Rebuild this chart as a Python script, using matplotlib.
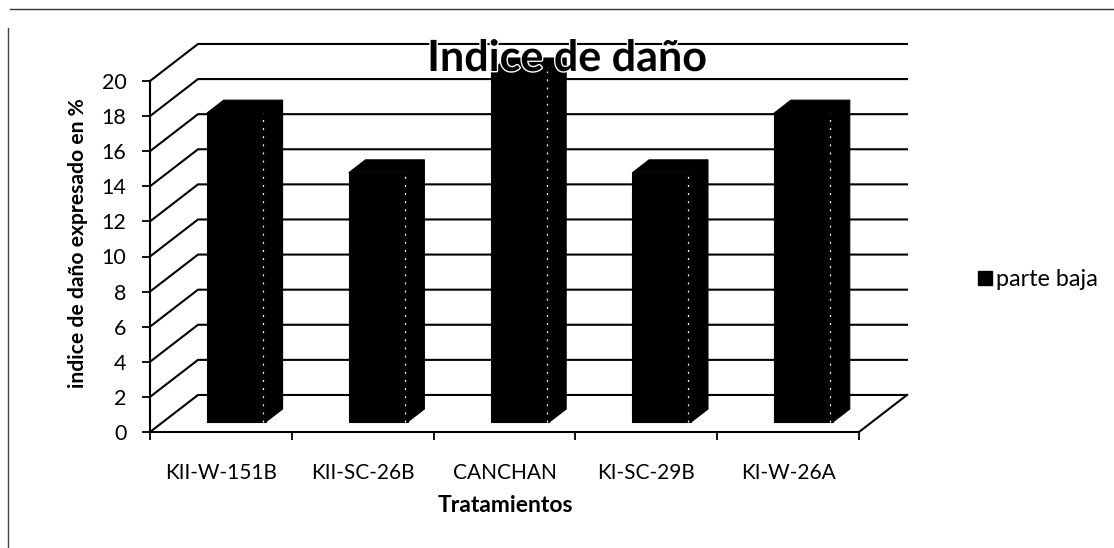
import matplotlib
matplotlib.use("Agg")
import matplotlib.pyplot as plt
from matplotlib.patches import Polygon
from matplotlib.lines import Line2D
import matplotlib.patheffects as pe

plt.rcParams['font.family'] = ['Lato', 'DejaVu Sans']

categories = ["KII-W-151B", "KII-SC-26B", "CANCHAN", "KI-SC-29B", "KI-W-26A"]
values = [17.6, 14.2, 20.0, 14.2, 17.6]
y_ticks = list(range(0, 21, 2))
title = "Indice de daño"
xlabel = "Tratamientos"
ylabel = "indice de daño expresado en %"
series = "parte baja"

W, H = 1114, 548
fig = plt.figure(figsize=(W / 100, H / 100), dpi=100, facecolor="white")
ax = fig.add_axes([150 / W, (H - 432) / H, 709 / W, 351 / H])
ax.set_xlim(0, len(categories))
ax.set_ylim(0, 20)
ax.patch.set_visible(False)

# oblique projection of the 3D box
DX, DY = 0.3385, 2.11


def proj(x, y, d):
    return x + d * DX, y + d * DY


LW = 1.5
for t in y_ticks:
    p0, p1, p2 = proj(0, t, 0), proj(0, t, 1), proj(len(categories), t, 1)
    ax.plot([p0[0], p1[0], p2[0]], [p0[1], p1[1], p2[1]], color="black", lw=LW,
            clip_on=False, zorder=1, solid_joinstyle="miter")
fr = proj(len(categories), 0, 0), proj(len(categories), 0, 1)
ax.plot([fr[0][0], fr[1][0]], [fr[0][1], fr[1][1]], color="black", lw=LW, clip_on=False, zorder=1)

# bars as boxes
LEFT, WIDTH, D0, D1 = 0.31, 0.415, 0.27, 0.62
for i, v in enumerate(values):
    x0, x1 = i + LEFT, i + LEFT + WIDTH
    front = [proj(x0, 0, D0), proj(x1, 0, D0), proj(x1, v, D0), proj(x0, v, D0)]
    top = [proj(x0, v, D0), proj(x1, v, D0), proj(x1, v, D1), proj(x0, v, D1)]
    side = [proj(x1, 0, D0), proj(x1, 0, D1), proj(x1, v, D1), proj(x1, v, D0)]
    for poly in (front, top, side):
        ax.add_patch(Polygon(poly, closed=True, facecolor="black", edgecolor="black",
                             lw=0.8, clip_on=False, zorder=3))
    e0, e1 = proj(x1 - 0.02, 0, D0), proj(x1 - 0.02, v, D0)
    ax.plot([e0[0], e1[0]], [e0[1], e1[1]], color="white", lw=0.9,
            ls=(0, (1.5, 5)), clip_on=False, zorder=4)

# axes
for s in ("top", "right"):
    ax.spines[s].set_visible(False)
for s in ("left", "bottom"):
    ax.spines[s].set_linewidth(LW)
    ax.spines[s].set_zorder(2)
ax.set_yticks(y_ticks)
ax.set_yticklabels([str(t) for t in y_ticks], fontsize=15.5, color="black")
ax.set_xticks(range(len(categories) + 1))
ax.set_xticklabels([])
ax.set_xticks([i + 0.5 for i in range(len(categories))], minor=True)
ax.set_xticklabels(categories, minor=True, fontsize=15, color="black")
ax.tick_params(axis="x", which="major", length=6, width=1.3, direction="out")
ax.tick_params(axis="x", which="minor", length=0, pad=22)
ax.tick_params(axis="y", length=6, width=1.3, pad=11)

fig.text(567 / W, 1 - 58 / H, title, ha="center", va="center", fontsize=31, fontweight="bold",
         color="black", zorder=10,
         path_effects=[pe.withStroke(linewidth=2.0, foreground="white")])
fig.text(505 / W, 1 - 505 / H, xlabel, ha="center", va="center", fontsize=16.5, fontweight="bold", color="black")
fig.text(78 / W, 1 - 243 / H, ylabel, ha="center", va="center", rotation=90, fontsize=15.2,
         fontweight="bold", color="black")

# legend
leg = ax.legend([Line2D([], [], marker="s", ls="none", color="black", markersize=10)], [series],
                loc="center left", bbox_to_anchor=(973 / W, 1 - 280 / H),
                bbox_transform=fig.transFigure, frameon=False, fontsize=16.8,
                borderpad=0, borderaxespad=0, handletextpad=0.0, handlelength=1.0)
for t in leg.get_texts():
    t.set_color("black")

# scanned page border
fig.add_artist(Line2D([10 / W, 1], [1 - 9 / H, 1 - 9 / H], color="#333333", lw=1.0))
fig.add_artist(Line2D([8 / W, 8 / W], [0, 1 - 28 / H], color="#444444", lw=1.0))

fig.savefig("out.png", dpi=100, facecolor="white")
